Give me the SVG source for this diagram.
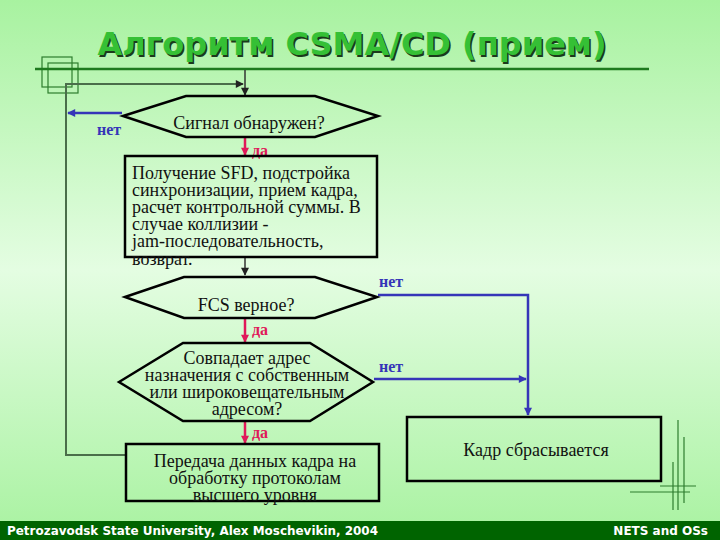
<svg xmlns="http://www.w3.org/2000/svg" width="720" height="540" viewBox="0 0 720 540">
<defs>
<linearGradient id="bg" x1="0" y1="0" x2="0" y2="1">
<stop offset="0" stop-color="#a8f2a0"/>
<stop offset="0.5" stop-color="#e4fde2"/>
<stop offset="1" stop-color="#a8f2a0"/>
</linearGradient>
<marker id="ak" viewBox="0 0 10 10" refX="9" refY="5" markerWidth="9" markerHeight="8" orient="auto" markerUnits="userSpaceOnUse"><path d="M0,0 L10,5 L0,10 z" fill="#222"/></marker>
<marker id="ar" viewBox="0 0 10 10" refX="9" refY="5" markerWidth="9" markerHeight="8" orient="auto" markerUnits="userSpaceOnUse"><path d="M0,0 L10,5 L0,10 z" fill="#e0185a"/></marker>
<marker id="au" viewBox="0 0 10 10" refX="9" refY="5" markerWidth="10" markerHeight="8" orient="auto" markerUnits="userSpaceOnUse"><path d="M0,0 L10,5 L0,10 z" fill="#3535b8"/></marker>
</defs>
<style>
.shape{fill:none;stroke:#000;stroke-width:2.5}
.t{font-family:"Liberation Serif","Times New Roman",serif;font-size:18px;fill:#111}
.c{text-anchor:middle}
.yes{font-family:"Liberation Serif",serif;font-weight:bold;font-size:16px;fill:#e0185a}
.no{font-family:"Liberation Serif",serif;font-weight:bold;font-size:16px;fill:#3535b8}
.red{fill:none;stroke:#e0185a;stroke-width:2.5;marker-end:url(#ar)}
.blue{fill:none;stroke:#3535b8;stroke-width:2.5}
.loop{fill:none;stroke:#4a6e4a;stroke-width:2}
.deco{fill:none;stroke:#2e7d2e;stroke-width:1.2}
.foot{font-family:"DejaVu Sans",sans-serif;font-weight:bold;font-size:12px;fill:#fff}
.ttl{font-family:"DejaVu Sans",sans-serif;font-weight:bold;font-size:32px;text-anchor:middle}
</style>
<rect x="0" y="0" width="720" height="540" fill="url(#bg)"/>
<g id="decor">
<rect class="deco" x="42" y="57" width="30" height="30"/>
<rect class="deco" x="48" y="63" width="30" height="30"/>
<line x1="35" y1="69" x2="649" y2="69" stroke="#1e7a1e" stroke-width="2.5"/>
<line class="deco" x1="678" y1="420" x2="678" y2="510"/>
<line class="deco" x1="684" y1="437" x2="684" y2="503"/>
<line class="deco" x1="673" y1="462" x2="673" y2="510"/>
<line class="deco" x1="660" y1="486" x2="696" y2="486"/>
<line class="deco" x1="630" y1="492" x2="690" y2="492"/>
</g>
<g id="title">
<text class="ttl" x="353.5" y="56.5" fill="#1b3a1b">Алгоритм CSMA/CD (прием)</text>
<text class="ttl" x="352" y="55" fill="#35c035">Алгоритм CSMA/CD (прием)</text>
</g>
<g id="connectors">
<polyline class="loop" points="126,455 66,455 66,84 243,84" marker-end="url(#ak)"/>
<line x1="245" y1="70" x2="245" y2="95" stroke="#333" stroke-width="1.5" marker-end="url(#ak)"/>
<line class="blue" x1="122" y1="113" x2="68" y2="113" marker-end="url(#au)"/>
<text class="no" x="97" y="135">нет</text>
<line class="red" x1="245" y1="138" x2="245" y2="155"/>
<text class="yes" x="252" y="156">да</text>
<line x1="245" y1="258" x2="245" y2="275" stroke="#333" stroke-width="1.5" marker-end="url(#ak)"/>
<line class="red" x1="245" y1="319" x2="245" y2="342"/>
<text class="yes" x="252" y="335">да</text>
<line class="red" x1="245" y1="422" x2="245" y2="443"/>
<text class="yes" x="252" y="438">да</text>
<polyline class="blue" points="378,295 528,295 528,415" marker-end="url(#au)"/>
<text class="no" x="379" y="287">нет</text>
<line class="blue" x1="374" y1="379" x2="526" y2="379" marker-end="url(#au)"/>
<text class="no" x="379" y="372">нет</text>
</g>
<g id="signal">
<polygon class="shape" points="123,116 186,96 315,96 378,116 315,137 186,137"/>
<text class="t c" x="249" y="129">Сигнал обнаружен?</text>
</g>
<g id="receive">
<rect class="shape" x="125" y="156" width="252" height="101"/>
<text class="t" x="132" y="179">Получение SFD, подстройка</text>
<text class="t" x="132" y="196">синхронизации, прием кадра,</text>
<text class="t" x="132" y="213">расчет контрольной суммы. В</text>
<text class="t" x="132" y="230">случае коллизии -</text>
<text class="t" x="132" y="247">jam-последовательность,</text>
<text class="t" x="132" y="265">возврат.</text>
</g>
<g id="fcs">
<polygon class="shape" points="125,297 184,277 315,277 377,297 315,318 184,318"/>
<text class="t c" x="246" y="311">FCS верное?</text>
</g>
<g id="addr">
<polygon class="shape" points="119,382 183,343 310,343 373,382 310,421 183,421"/>
<text class="t c" x="247" y="364">Совпадает адрес</text>
<text class="t c" x="247" y="381">назначения с собственным</text>
<text class="t c" x="247" y="398">или широковещательным</text>
<text class="t c" x="247" y="415">адресом?</text>
</g>
<g id="pass">
<rect class="shape" x="126" y="444" width="253" height="57"/>
<text class="t c" x="255" y="467">Передача данных кадра на</text>
<text class="t c" x="255" y="484">обработку протоколам</text>
<text class="t c" x="255" y="501">высшего уровня</text>
</g>
<g id="drop">
<rect class="shape" x="407" y="417" width="254" height="64"/>
<text class="t c" x="536" y="456">Кадр сбрасывается</text>
</g>
<g id="footer">
<rect x="0" y="521" width="720" height="19" fill="#006400"/>
<text class="foot" x="7" y="535" textLength="371" lengthAdjust="spacingAndGlyphs">Petrozavodsk State University, Alex Moschevikin, 2004</text>
<text class="foot" x="708" y="535" text-anchor="end">NETS and OSs</text>
</g>
</svg>
